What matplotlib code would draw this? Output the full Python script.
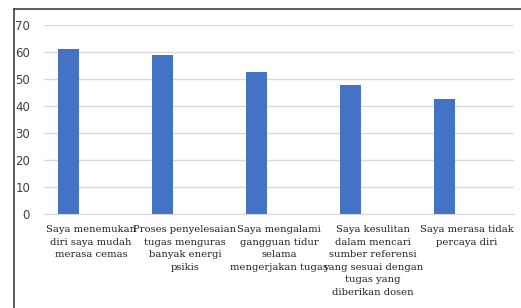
import matplotlib.pyplot as plt
from matplotlib.lines import Line2D
import numpy as np

# Data
categories = [
    "Saya menemukan\ndiri saya mudah\nmerasa cemas",
    "Proses penyelesaian\ntugas menguras\nbanyak energi\npsikis",
    "Saya mengalami\ngangguan tidur\nselama\nmengerjakan tugas",
    "Saya kesulitan\ndalam mencari\nsumber referensi\nyang sesuai dengan\ntugas yang\ndiberikan dosen",
    "Saya merasa tidak\npercaya diri",
]
values = [61, 58.8, 52.6, 47.6, 42.6]
yticks = [0, 10, 20, 30, 40, 50, 60, 70]

W, H = 521, 308
fig = plt.figure(figsize=(W / 100, H / 100), dpi=100)
ax = fig.add_axes([44 / W, 1 - 214 / H, 470 / W, 189 / H])

x = np.arange(len(categories))
ax.bar(x - 0.235, values, width=0.225, color='#4472C4', zorder=3)

ax.set_xlim(-0.5, len(categories) - 0.5)
ax.set_ylim(0, 70)
ax.set_yticks(yticks)
ax.yaxis.grid(True, color='#d9d9d9', linewidth=1, zorder=0)
ax.set_xticks(x)
ax.set_xticklabels(categories, family='DejaVu Serif', fontsize=7.2, color='#202020',
                   linespacing=1.5)
ax.tick_params(axis='both', length=0)
ax.tick_params(axis='x', pad=8)
ax.tick_params(axis='y', pad=10, labelsize=8.5, labelcolor='#404040')
for s in ['top', 'right', 'left']:
    ax.spines[s].set_visible(False)
ax.spines['bottom'].set_color('#d9d9d9')

# outer frame (left and top edges)
fig.add_artist(Line2D([14 / W, 14 / W], [0, 1 - 9 / H], color='#404040', lw=1.2))
fig.add_artist(Line2D([14 / W, 1], [1 - 9 / H, 1 - 9 / H], color='#404040', lw=1.2))

fig.savefig('out.png', dpi=100)
